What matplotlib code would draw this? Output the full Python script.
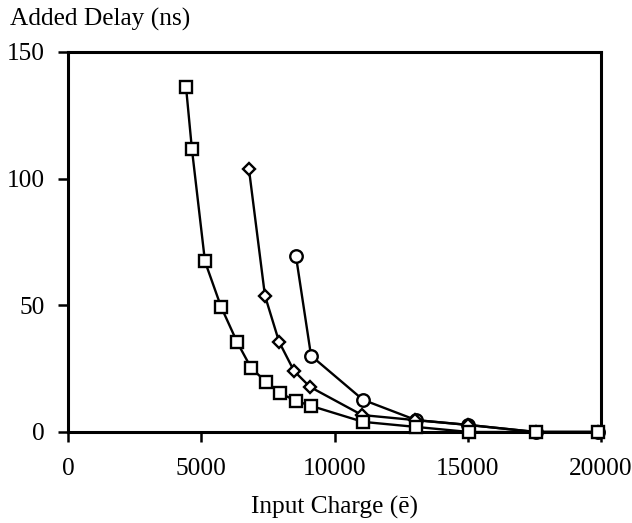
import matplotlib
matplotlib.use("Agg")
import matplotlib.pyplot as plt

plt.rcParams['font.family'] = ['Liberation Serif', 'DejaVu Serif']

sq_x = [4430, 4650, 5140, 5740, 6340, 6870, 7430, 7950, 8550, 9120, 11070, 13060, 15050, 17560, 19900]
sq_y = [136.0, 111.6, 67.3, 49.5, 35.6, 25.3, 19.8, 15.4, 12.3, 10.3, 4.0, 2.0, 0.0, 0.0, 0.0]

dm_x = [6790, 7390, 7920, 8480, 9080, 11030, 13020, 15010, 17560, 19900]
dm_y = [103.7, 53.8, 35.6, 24.1, 17.8, 6.7, 4.7, 2.8, 0.0, 0.0]

ci_x = [8555, 9120, 11070, 13060, 15010, 17560, 19900]
ci_y = [69.3, 30.1, 12.7, 4.7, 2.8, 0.0, 0.0]

x_ticks = [0, 5000, 10000, 15000, 20000]
y_ticks = [0, 50, 100, 150]

fig = plt.figure(figsize=(6.32, 5.23), dpi=100)
ax = fig.add_axes([0.1076, 0.174, 0.8434, 0.7266])

kw = dict(color='black', lw=1.7, mfc='white', mec='black', mew=1.7, clip_on=False)
ax.plot(ci_x, ci_y, marker='o', ms=9, zorder=3, **kw)
ax.plot(dm_x, dm_y, marker='D', ms=6.5, zorder=4, **kw)
ax.plot(sq_x, sq_y, marker='s', ms=9, zorder=5, **kw)

ax.set_xlim(0, 20000)
ax.set_ylim(0, 150)
ax.set_xticks(x_ticks)
ax.set_yticks(y_ticks)
ax.set_xticklabels([str(v) for v in x_ticks])
ax.set_yticklabels([str(v) for v in y_ticks])
for s in ax.spines.values():
    s.set_linewidth(2.2)
ax.tick_params(direction='out', length=7.5, width=1.8, labelsize=18.3)
ax.tick_params(axis='x', pad=11)
ax.tick_params(axis='y', pad=9)

ax.set_xlabel('Input Charge (ē)', fontsize=18.3, labelpad=12)
fig.text(0.016, 0.962, 'Added Delay (ns)', fontsize=18.3, ha='left', va='center')

fig.savefig('out.png', dpi=100)
